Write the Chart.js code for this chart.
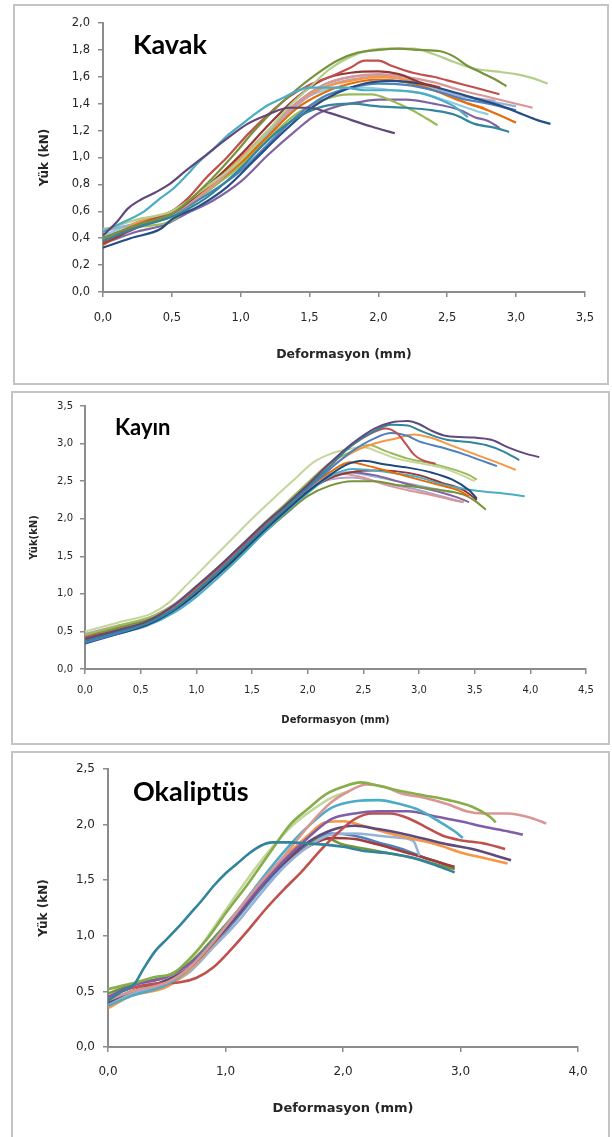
<!DOCTYPE html>
<html>
<head>
  <meta charset="UTF-8">
  <title>Yük - Deformasyon</title>
  <script src="https://cdn.jsdelivr.net/npm/chart.js"></script>
  <style>
    body {
      margin: 0;
      background: #fff;
      width: 612px;
      height: 1137px;
      position: relative;
      overflow: hidden;
    }
    .frame {
      position: absolute;
      box-sizing: border-box;
      border: 2px solid #c4c4c4;
    }
    canvas {
      position: absolute;
    }
  </style>
</head>
<body>
  <div class="frame" style="left:13px; top:4px; width:596px; height:381px;"></div>
  <div class="frame" style="left:11px; top:391px; width:599px; height:354px;"></div>
  <div class="frame" style="left:11px; top:751px; width:599px; height:390px;"></div>

  <canvas id="kavak" width="594" height="379" style="left:14px; top:5px;"></canvas>
  <canvas id="kayin" width="597" height="352" style="left:12px; top:392px;"></canvas>
  <canvas id="okaliptus" width="597" height="385" style="left:12px; top:752px;"></canvas>

  <script>
    // ---- Kavak ----
    const kavakXTicks = [0, 0.5, 1.0, 1.5, 2.0, 2.5, 3.0, 3.5];
    const kavakYTicks = [0, 0.2, 0.4, 0.6, 0.8, 1.0, 1.2, 1.4, 1.6, 1.8, 2.0];
    const kavakColors = ['#5F497A', '#4BACC6', '#31859C', '#77933C', '#B3CF8A', '#C0504D', '#953735', '#D99694',
                         '#254E84', '#4F81BD', '#E46C0A', '#F79646', '#9BBB59', '#8064A2', '#95B3D7', '#B3A2C7', '#93CDDD'];
    const kv01 = [[0,0.42],[0.1,0.52],[0.18,0.62],[0.28,0.69],[0.38,0.74],[0.48,0.8],[0.6,0.9],[0.75,1.02],[0.9,1.14],[1.05,1.25],[1.2,1.32],[1.35,1.37],[1.5,1.37],[1.65,1.33],[1.8,1.28],[1.95,1.23],[2.12,1.18]];
    const kv02 = [[0,0.45],[0.15,0.52],[0.3,0.6],[0.42,0.7],[0.5,0.76],[0.6,0.86],[0.7,0.97],[0.8,1.06],[0.9,1.16],[1.0,1.24],[1.1,1.32],[1.2,1.39],[1.3,1.44],[1.4,1.49],[1.5,1.52],[1.6,1.52],[1.75,1.52],[1.9,1.5],[2.1,1.5],[2.3,1.48],[2.45,1.43],[2.55,1.38],[2.65,1.3]];
    const kv03 = [[0,0.38],[0.25,0.48],[0.5,0.56],[0.75,0.7],[1.0,0.92],[1.15,1.08],[1.3,1.22],[1.45,1.32],[1.6,1.38],[1.8,1.4],[2.0,1.38],[2.2,1.37],[2.4,1.35],[2.55,1.32],[2.7,1.25],[2.85,1.22],[2.95,1.19]];
    const kv04 = [[0,0.4],[0.25,0.5],[0.5,0.58],[0.75,0.8],[0.95,1.02],[1.1,1.2],[1.25,1.36],[1.4,1.5],[1.55,1.62],[1.7,1.72],[1.85,1.78],[2.0,1.8],[2.15,1.81],[2.3,1.8],[2.45,1.79],[2.55,1.75],[2.65,1.68],[2.75,1.63],[2.85,1.58],[2.93,1.53]];
    const kv05 = [[0,0.46],[0.25,0.54],[0.5,0.6],[0.75,0.78],[1.0,0.98],[1.2,1.2],[1.35,1.38],[1.5,1.52],[1.65,1.66],[1.8,1.75],[1.95,1.8],[2.1,1.81],[2.25,1.81],[2.4,1.77],[2.55,1.71],[2.7,1.66],[2.85,1.64],[3.0,1.62],[3.12,1.59],[3.23,1.55]];
    const kv06 = [[0,0.37],[0.25,0.5],[0.5,0.6],[0.62,0.7],[0.75,0.85],[0.9,1.0],[1.05,1.17],[1.2,1.32],[1.35,1.45],[1.5,1.54],[1.65,1.6],[1.8,1.67],[1.9,1.72],[2.0,1.72],[2.1,1.68],[2.25,1.63],[2.4,1.6],[2.55,1.56],[2.7,1.52],[2.88,1.47]];
    const kv07 = [[0,0.36],[0.25,0.48],[0.5,0.58],[0.75,0.78],[1.0,1.02],[1.2,1.24],[1.4,1.44],[1.6,1.58],[1.8,1.63],[2.0,1.64],[2.15,1.62],[2.3,1.56],[2.45,1.52]];
    const kv08 = [[0,0.38],[0.25,0.5],[0.5,0.58],[0.75,0.75],[1.0,0.98],[1.2,1.2],[1.4,1.4],[1.6,1.54],[1.8,1.6],[2.0,1.62],[2.2,1.6],[2.4,1.56],[2.6,1.5],[2.8,1.45],[3.0,1.4],[3.12,1.37]];
    const kv09 = [[0,0.33],[0.2,0.4],[0.42,0.47],[0.5,0.54],[0.7,0.64],[0.9,0.78],[1.1,0.98],[1.3,1.18],[1.5,1.36],[1.7,1.48],[1.9,1.55],[2.1,1.57],[2.3,1.55],[2.5,1.5],[2.7,1.44],[2.9,1.38],[3.05,1.32],[3.15,1.28],[3.25,1.25]];
    const kv10 = [[0,0.4],[0.25,0.5],[0.5,0.58],[0.75,0.72],[1.0,0.9],[1.2,1.1],[1.4,1.3],[1.6,1.45],[1.8,1.52],[2.0,1.55],[2.2,1.54],[2.4,1.5],[2.6,1.44],[2.8,1.4],[3.0,1.35]];
    const kv11 = [[0,0.35],[0.25,0.5],[0.5,0.6],[0.75,0.76],[1.0,0.96],[1.2,1.16],[1.4,1.36],[1.6,1.48],[1.8,1.55],[2.0,1.58],[2.2,1.56],[2.4,1.5],[2.6,1.42],[2.8,1.35],[3.0,1.26]];
    const kv12 = [[0,0.36],[0.25,0.52],[0.5,0.6],[0.75,0.78],[1.0,1.0],[1.2,1.2],[1.4,1.4],[1.6,1.52],[1.8,1.57],[2.0,1.6],[2.2,1.58],[2.4,1.5],[2.55,1.45],[2.65,1.4],[2.77,1.37]];
    const kv13 = [[0,0.4],[0.25,0.48],[0.5,0.53],[0.75,0.74],[1.0,0.94],[1.2,1.14],[1.4,1.32],[1.6,1.43],[1.8,1.47],[1.95,1.47],[2.1,1.42],[2.25,1.35],[2.35,1.29],[2.43,1.24]];
    const kv14 = [[0,0.36],[0.25,0.45],[0.45,0.5],[0.6,0.58],[0.8,0.68],[1.0,0.82],[1.2,1.02],[1.4,1.2],[1.55,1.32],[1.7,1.38],[1.85,1.41],[2.0,1.43],[2.2,1.43],[2.4,1.4],[2.6,1.35],[2.7,1.3],[2.8,1.27],[2.88,1.22]];
    const kv15 = [[0,0.47],[0.1,0.48],[0.3,0.52],[0.5,0.58],[0.75,0.75],[1.0,0.96],[1.2,1.18],[1.4,1.4],[1.6,1.54],[1.8,1.6],[2.0,1.61],[2.2,1.58],[2.4,1.52],[2.6,1.46],[2.8,1.42],[3.0,1.38]];
    const kv16 = [[0,0.45],[0.3,0.52],[0.5,0.56],[0.75,0.74],[1.0,0.96],[1.2,1.18],[1.4,1.38],[1.6,1.52],[1.8,1.58],[2.0,1.6],[2.2,1.58],[2.4,1.52],[2.6,1.46],[2.85,1.42]];
    const kv17 = [[0,0.42],[0.25,0.52],[0.5,0.6],[0.75,0.78],[1.0,1.0],[1.2,1.2],[1.4,1.4],[1.55,1.48],[1.7,1.52],[1.9,1.52],[2.1,1.5],[2.3,1.48],[2.5,1.42],[2.7,1.35],[2.8,1.32]];
    const kavakSeries = [kv01, kv02, kv03, kv04, kv05, kv06, kv07, kv08, kv09, kv10, kv11, kv12, kv13, kv14, kv15, kv16, kv17];

    // ---- Kayın ----
    const kayinXTicks = [0, 0.5, 1.0, 1.5, 2.0, 2.5, 3.0, 3.5, 4.0, 4.5];
    const kayinYTicks = [0, 0.5, 1.0, 1.5, 2.0, 2.5, 3.0, 3.5];
    const kayinColors = ['#604A7B', '#31859C', '#C0504D', '#4F81BD', '#F79646', '#C3D69B', '#9BBB59', '#1F497D',
                         '#E46C0A', '#4BACC6', '#953735', '#77933C', '#8064A2', '#D99694', '#95B3D7', '#B3A2C7'];
    const ky01 = [[0,0.4],[0.3,0.52],[0.55,0.63],[0.8,0.85],[1.0,1.1],[1.2,1.36],[1.4,1.64],[1.6,1.92],[1.8,2.18],[2.0,2.45],[2.2,2.74],[2.4,3.0],[2.6,3.2],[2.75,3.28],[2.9,3.3],[3.0,3.26],[3.1,3.18],[3.25,3.1],[3.5,3.08],[3.65,3.05],[3.8,2.95],[3.95,2.87],[4.08,2.82]];
    const ky02 = [[0,0.37],[0.3,0.5],[0.55,0.6],[0.8,0.8],[1.0,1.04],[1.2,1.3],[1.4,1.58],[1.6,1.86],[1.8,2.14],[2.0,2.42],[2.2,2.7],[2.4,2.98],[2.6,3.17],[2.75,3.25],[2.9,3.24],[3.0,3.18],[3.1,3.12],[3.25,3.05],[3.45,3.02],[3.6,2.98],[3.75,2.9],[3.9,2.78]];
    const ky03 = [[0,0.42],[0.3,0.52],[0.55,0.62],[0.8,0.84],[1.0,1.08],[1.2,1.34],[1.4,1.62],[1.6,1.9],[1.8,2.17],[2.0,2.45],[2.2,2.74],[2.4,2.98],[2.55,3.12],[2.7,3.2],[2.8,3.14],[2.88,3.0],[2.95,2.86],[3.03,2.78],[3.15,2.73]];
    const ky04 = [[0,0.35],[0.3,0.48],[0.55,0.6],[0.8,0.8],[1.0,1.04],[1.2,1.3],[1.4,1.58],[1.6,1.87],[1.8,2.14],[2.0,2.4],[2.2,2.66],[2.4,2.9],[2.6,3.07],[2.75,3.14],[2.9,3.1],[3.0,3.03],[3.2,2.95],[3.4,2.86],[3.55,2.78],[3.7,2.7]];
    const ky05 = [[0,0.4],[0.3,0.52],[0.55,0.62],[0.8,0.82],[1.0,1.06],[1.2,1.32],[1.4,1.6],[1.6,1.88],[1.8,2.15],[2.0,2.42],[2.2,2.68],[2.4,2.88],[2.6,3.0],[2.8,3.07],[2.95,3.12],[3.1,3.08],[3.3,2.97],[3.5,2.86],[3.7,2.75],[3.87,2.65]];
    const ky06 = [[0,0.5],[0.3,0.62],[0.6,0.74],[0.75,0.88],[0.9,1.1],[1.1,1.4],[1.3,1.7],[1.5,2.0],[1.7,2.28],[1.9,2.55],[2.05,2.75],[2.2,2.86],[2.35,2.92],[2.5,2.95],[2.65,2.88],[2.8,2.8],[3.0,2.74],[3.2,2.68],[3.35,2.6],[3.5,2.5]];
    const ky07 = [[0,0.45],[0.3,0.58],[0.6,0.7],[0.8,0.85],[1.0,1.1],[1.2,1.36],[1.4,1.64],[1.6,1.93],[1.8,2.2],[2.0,2.48],[2.2,2.74],[2.4,2.9],[2.55,2.98],[2.7,2.9],[2.9,2.8],[3.1,2.74],[3.3,2.66],[3.45,2.58],[3.52,2.52]];
    const ky08 = [[0,0.34],[0.3,0.47],[0.55,0.58],[0.8,0.78],[1.0,1.0],[1.2,1.26],[1.4,1.54],[1.6,1.83],[1.8,2.1],[2.0,2.36],[2.2,2.58],[2.35,2.72],[2.5,2.77],[2.7,2.72],[2.9,2.68],[3.1,2.62],[3.3,2.52],[3.45,2.38],[3.52,2.27]];
    const ky09 = [[0,0.42],[0.3,0.52],[0.55,0.62],[0.8,0.8],[1.0,1.02],[1.2,1.3],[1.4,1.58],[1.6,1.86],[1.8,2.12],[2.0,2.4],[2.2,2.62],[2.38,2.75],[2.55,2.7],[2.8,2.6],[3.0,2.52],[3.2,2.44],[3.35,2.38],[3.45,2.3]];
    const ky10 = [[0,0.36],[0.3,0.47],[0.55,0.57],[0.8,0.75],[1.0,0.96],[1.2,1.22],[1.4,1.5],[1.6,1.8],[1.8,2.08],[2.0,2.34],[2.2,2.56],[2.4,2.66],[2.6,2.64],[2.8,2.6],[3.0,2.55],[3.2,2.46],[3.4,2.4],[3.6,2.36],[3.8,2.33],[3.95,2.3]];
    const ky11 = [[0,0.38],[0.3,0.5],[0.55,0.6],[0.8,0.8],[1.0,1.03],[1.2,1.28],[1.4,1.56],[1.6,1.84],[1.8,2.1],[2.0,2.36],[2.2,2.54],[2.4,2.62],[2.6,2.64],[2.8,2.63],[3.0,2.58],[3.2,2.48],[3.4,2.38],[3.52,2.25]];
    const ky12 = [[0,0.44],[0.3,0.55],[0.55,0.65],[0.8,0.82],[1.0,1.03],[1.2,1.26],[1.4,1.52],[1.6,1.8],[1.8,2.06],[2.0,2.3],[2.2,2.44],[2.4,2.5],[2.6,2.5],[2.8,2.45],[3.0,2.42],[3.2,2.38],[3.4,2.32],[3.5,2.24],[3.6,2.12]];
    const ky13 = [[0,0.4],[0.3,0.52],[0.55,0.62],[0.8,0.82],[1.0,1.05],[1.2,1.3],[1.4,1.57],[1.6,1.84],[1.8,2.1],[2.0,2.36],[2.2,2.54],[2.4,2.62],[2.6,2.58],[2.8,2.5],[3.0,2.42],[3.2,2.35],[3.35,2.28],[3.45,2.22]];
    const ky14 = [[0,0.45],[0.3,0.56],[0.55,0.66],[0.8,0.86],[1.0,1.08],[1.2,1.34],[1.4,1.6],[1.6,1.88],[1.8,2.14],[2.0,2.4],[2.15,2.55],[2.3,2.6],[2.5,2.55],[2.7,2.45],[2.9,2.38],[3.1,2.32],[3.3,2.25],[3.4,2.22]];
    const ky15 = [[0,0.43],[0.3,0.55],[0.55,0.64],[0.8,0.84],[1.0,1.06],[1.2,1.32],[1.4,1.6],[1.6,1.88],[1.8,2.15],[2.0,2.42],[2.2,2.6],[2.35,2.62],[2.6,2.56],[2.8,2.5],[3.0,2.44],[3.2,2.38],[3.3,2.35]];
    const ky16 = [[0,0.47],[0.3,0.58],[0.55,0.67],[0.8,0.86],[1.0,1.1],[1.2,1.36],[1.4,1.62],[1.6,1.9],[1.8,2.16],[2.0,2.4],[2.2,2.52],[2.4,2.55],[2.6,2.5],[2.8,2.44],[3.0,2.38],[3.2,2.3],[3.4,2.22]];
    const kayinSeries = [ky01, ky02, ky03, ky04, ky05, ky06, ky07, ky08, ky09, ky10, ky11, ky12, ky13, ky14, ky15, ky16];

    // ---- Okaliptüs ----
    const okalXTicks = [0, 1.0, 2.0, 3.0, 4.0];
    const okalYTicks = [0, 0.5, 1.0, 1.5, 2.0, 2.5];
    const okalColors = ['#31849B', '#86AE4A', '#D99694', '#4BACC6', '#7E5EA6', '#C0504D', '#604A7B', '#F79646',
                        '#95B3D7', '#A33B39', '#77933C', '#4F81BD', '#C3D69B'];
    const ok01 = [[0,0.42],[0.12,0.5],[0.22,0.56],[0.3,0.7],[0.4,0.86],[0.5,0.97],[0.6,1.08],[0.7,1.2],[0.8,1.32],[0.9,1.45],[1.0,1.56],[1.1,1.65],[1.2,1.74],[1.3,1.81],[1.4,1.84],[1.55,1.84],[1.7,1.83],[1.85,1.82],[2.0,1.8],[2.2,1.76],[2.4,1.74],[2.6,1.7],[2.8,1.63],[2.95,1.57]];
    const ok02 = [[0,0.52],[0.2,0.57],[0.4,0.63],[0.55,0.66],[0.7,0.8],[0.85,0.98],[1.0,1.2],[1.2,1.48],[1.4,1.78],[1.55,2.0],[1.7,2.14],[1.85,2.27],[2.0,2.34],[2.15,2.38],[2.3,2.35],[2.5,2.3],[2.7,2.26],[2.9,2.22],[3.1,2.16],[3.25,2.07],[3.3,2.02]];
    const ok03 = [[0,0.42],[0.2,0.5],[0.5,0.58],[0.7,0.72],[0.9,0.95],[1.1,1.22],[1.3,1.48],[1.5,1.72],[1.7,1.98],[1.9,2.2],[2.05,2.3],[2.2,2.36],[2.35,2.34],[2.5,2.28],[2.7,2.24],[2.9,2.18],[3.05,2.12],[3.2,2.1],[3.4,2.1],[3.6,2.06],[3.73,2.01]];
    const ok04 = [[0,0.37],[0.2,0.46],[0.5,0.56],[0.7,0.72],[0.9,0.96],[1.1,1.22],[1.3,1.5],[1.5,1.76],[1.7,1.98],[1.9,2.15],[2.1,2.21],[2.3,2.22],[2.5,2.18],[2.65,2.13],[2.8,2.04],[2.95,1.94],[3.02,1.88]];
    const ok05 = [[0,0.45],[0.2,0.55],[0.5,0.63],[0.7,0.75],[0.9,0.96],[1.1,1.2],[1.3,1.45],[1.5,1.68],[1.7,1.88],[1.9,2.05],[2.1,2.1],[2.3,2.12],[2.55,2.12],[2.8,2.07],[3.0,2.03],[3.2,1.98],[3.4,1.94],[3.53,1.91]];
    const ok06 = [[0,0.45],[0.2,0.53],[0.4,0.57],[0.6,0.58],[0.75,0.62],[0.9,0.72],[1.05,0.88],[1.2,1.06],[1.35,1.25],[1.5,1.42],[1.65,1.58],[1.8,1.76],[1.95,1.92],[2.1,2.05],[2.25,2.1],[2.4,2.1],[2.55,2.06],[2.7,1.98],[2.85,1.9],[3.0,1.86],[3.2,1.83],[3.38,1.78]];
    const ok07 = [[0,0.4],[0.2,0.5],[0.5,0.6],[0.7,0.72],[0.9,0.94],[1.1,1.18],[1.3,1.44],[1.5,1.66],[1.7,1.84],[1.9,1.95],[2.1,1.99],[2.3,1.96],[2.5,1.92],[2.7,1.87],[2.9,1.82],[3.1,1.78],[3.3,1.72],[3.43,1.68]];
    const ok08 = [[0,0.35],[0.2,0.46],[0.5,0.54],[0.7,0.7],[0.9,0.93],[1.1,1.18],[1.3,1.44],[1.5,1.7],[1.7,1.9],[1.85,2.02],[2.0,2.03],[2.2,1.98],[2.4,1.92],[2.6,1.87],[2.8,1.82],[3.0,1.75],[3.2,1.7],[3.4,1.65]];
    const ok09 = [[0,0.4],[0.2,0.48],[0.5,0.56],[0.7,0.68],[0.9,0.9],[1.1,1.12],[1.3,1.38],[1.5,1.62],[1.7,1.8],[1.9,1.91],[2.1,1.92],[2.3,1.9],[2.5,1.88],[2.6,1.85],[2.65,1.72]];
    const ok10 = [[0,0.42],[0.2,0.5],[0.5,0.6],[0.7,0.72],[0.9,0.95],[1.1,1.18],[1.3,1.45],[1.5,1.66],[1.7,1.8],[1.9,1.88],[2.1,1.87],[2.3,1.82],[2.5,1.76],[2.7,1.7],[2.85,1.65],[2.95,1.62]];
    const ok11 = [[0,0.48],[0.2,0.56],[0.5,0.64],[0.7,0.76],[0.9,0.98],[1.1,1.22],[1.3,1.46],[1.5,1.68],[1.7,1.83],[1.85,1.88],[2.0,1.82],[2.2,1.78],[2.4,1.74],[2.6,1.7],[2.8,1.64],[2.95,1.6]];
    const ok12 = [[0,0.4],[0.2,0.48],[0.5,0.58],[0.7,0.7],[0.9,0.92],[1.1,1.16],[1.3,1.42],[1.5,1.65],[1.7,1.82],[1.9,1.92],[2.1,1.9],[2.3,1.84],[2.5,1.78],[2.7,1.7],[2.85,1.65],[2.95,1.6]];
    const ok13 = [[0,0.4],[0.2,0.5],[0.5,0.6],[0.65,0.72],[0.8,0.92],[0.95,1.15],[1.1,1.38],[1.25,1.6],[1.4,1.8],[1.5,1.92],[1.6,2.02],[1.75,2.14],[1.9,2.24],[2.05,2.3]];
    const okalSeries = [ok01, ok02, ok03, ok04, ok05, ok06, ok07, ok08, ok09, ok10, ok11, ok12, ok13];

    const TICK_FONT = 'DejaVu Sans';
    const TEXT_COLOR = '#262626';
    const AXIS_COLOR = '#8c8c8c';

    const fmt = v => Number(v).toFixed(1).replace('.', ',');

    // draws the wood name inside the plot
    const woodName = {
      id: 'woodName',
      afterDraw(chart, args, opts) {
        const ctx = chart.ctx;
        ctx.save();
        ctx.font = 'bold ' + opts.size + 'px Lato';
        ctx.fillStyle = '#000';
        ctx.textBaseline = 'middle';
        ctx.fillText(opts.text, opts.x, opts.y);
        ctx.restore();
      }
    };

    function makePanel(id, p) {
      const datasets = p.series.map((pts, i) => ({
        data: pts.map(d => ({x: d[0], y: d[1]})),
        borderColor: p.colors[i],
        backgroundColor: p.colors[i],
        borderWidth: p.lineW,
        showLine: true,
        pointRadius: 0,
        cubicInterpolationMode: 'monotone'
      }));

      return new Chart(document.getElementById(id), {
        type: 'scatter',
        data: { datasets: datasets },
        plugins: [woodName],
        options: {
          responsive: false,
          animation: false,
          events: [],
          layout: { padding: { left: 0, top: p.top, right: p.right, bottom: 0 } },
          plugins: {
            legend: { display: false },
            tooltip: { enabled: false },
            woodName: p.name
          },
          scales: {
            x: {
              type: 'linear',
              min: p.xTicks[0],
              max: p.xTicks[p.xTicks.length - 1],
              afterBuildTicks: s => { s.ticks = p.xTicks.map(v => ({value: v})); },
              afterFit: s => { s.height = p.xAxisH; },
              ticks: {
                callback: fmt,
                autoSkip: false,
                maxRotation: 0,
                padding: p.xLabelPad,
                color: TEXT_COLOR,
                font: { family: TICK_FONT, size: p.tickSize }
              },
              grid: { drawOnChartArea: false, drawTicks: true, tickLength: 5, color: AXIS_COLOR, lineWidth: 1.5 },
              border: { display: true, color: AXIS_COLOR, width: 2 },
              title: {
                display: true,
                text: 'Deformasyon (mm)',
                color: TEXT_COLOR,
                font: { family: TICK_FONT, size: p.xTitleSize, weight: 'bold' },
                padding: { top: 0, bottom: p.xTitlePad }
              }
            },
            y: {
              type: 'linear',
              min: p.yTicks[0],
              max: p.yTicks[p.yTicks.length - 1],
              afterBuildTicks: s => { s.ticks = p.yTicks.map(v => ({value: v})); },
              afterFit: s => { s.width = p.yAxisW; },
              ticks: {
                callback: fmt,
                autoSkip: false,
                padding: p.yLabelPad,
                color: TEXT_COLOR,
                font: { family: TICK_FONT, size: p.tickSize }
              },
              grid: { drawOnChartArea: false, drawTicks: true, tickLength: 5, color: AXIS_COLOR, lineWidth: 1.5 },
              border: { display: true, color: AXIS_COLOR, width: 2 },
              title: {
                display: true,
                text: p.yTitle,
                color: TEXT_COLOR,
                font: { family: TICK_FONT, size: p.yTitleSize, weight: 'bold' },
                padding: { top: p.yTitlePad, bottom: 0 }
              }
            }
          }
        }
      });
    }

    makePanel('kavak', {
      series: kavakSeries, colors: kavakColors, xTicks: kavakXTicks, yTicks: kavakYTicks,
      top: 18, right: 23, xAxisH: 92, yAxisW: 89, lineW: 2.2,
      tickSize: 11.5, xLabelPad: 14, yLabelPad: 8,
      xTitleSize: 12.5, xTitlePad: 22, yTitle: 'Yük (kN)', yTitleSize: 12, yTitlePad: 24,
      name: { text: 'Kavak', x: 119, y: 40, size: 27 }
    });

    makePanel('kayin', {
      series: kayinSeries, colors: kayinColors, xTicks: kayinXTicks, yTicks: kayinYTicks,
      top: 14, right: 23, xAxisH: 75, yAxisW: 73, lineW: 2,
      tickSize: 10, xLabelPad: 10, yLabelPad: 7,
      xTitleSize: 10, xTitlePad: 18, yTitle: 'Yük(kN)', yTitleSize: 10, yTitlePad: 16,
      name: { text: 'Kayın', x: 103, y: 36, size: 22 }
    });

    makePanel('okaliptus', {
      series: okalSeries, colors: okalColors, xTicks: okalXTicks, yTicks: okalYTicks,
      top: 17, right: 31, xAxisH: 90, yAxisW: 96, lineW: 2.6,
      tickSize: 12, xLabelPad: 13, yLabelPad: 8,
      xTitleSize: 13, xTitlePad: 21, yTitle: 'Yük (kN)', yTitleSize: 12, yTitlePad: 25,
      name: { text: 'Okaliptüs', x: 121, y: 40, size: 27 }
    });
  </script>
</body>
</html>
